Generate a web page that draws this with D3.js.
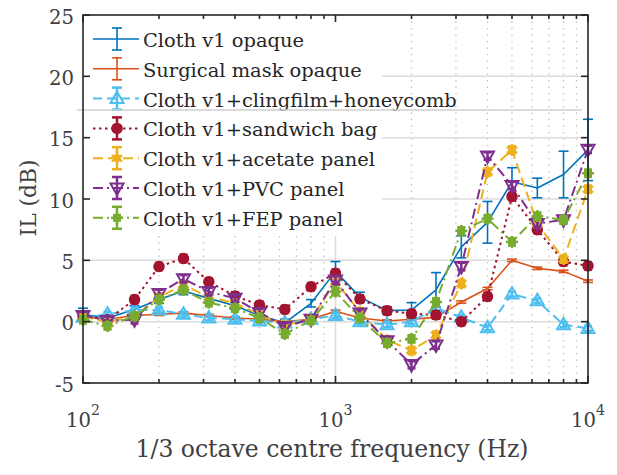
<!DOCTYPE html>
<html><head><meta charset="utf-8">
<script src="https://cdn.jsdelivr.net/npm/d3@7"></script>
<style>html,body{margin:0;padding:0;background:#fff;}svg{display:block;}
svg text{font-family:"DejaVu Serif","Liberation Serif",serif;}</style>
</head><body>
<svg id="chart" width="617" height="475"></svg>
<script>
const freqs = [100,125,160,200,250,315,400,500,630,800,1000,1250,1600,2000,2500,3150,4000,5000,6300,8000,10000];

const clothOpaque    = [0.6,0.3,1.0,1.8,2.5,1.9,1.3,0.5,-0.1,1.5,4.1,2.0,0.9,0.95,2.6,6.1,8.1,11.4,10.9,12.0,14.0];
const clothOpaqueErr = [0.5,0.2,0.3,0.3,0.3,0.3,0.3,0.3,0.3,0.3,0.8,0.4,0.3,0.6,1.4,0.9,1.7,1.15,0.8,1.9,2.5];

const surgical    = [0.4,0.2,0.5,0.6,0.7,0.5,0.3,0.2,0.0,0.2,0.85,0.3,0.05,0.2,0.35,1.6,2.7,5.0,4.35,4.1,3.3];
const surgicalErr = [0.1,0.1,0.1,0.1,0.1,0.1,0.1,0.1,0.1,0.1,0.1,0.1,0.1,0.1,0.1,0.1,0.1,0.1,0.1,0.1,0.1];

const clingfilm    = [0.35,0.6,0.95,0.95,0.6,0.3,0.2,0.05,-0.1,0.2,0.5,0.0,-0.25,0.0,1.1,0.35,-0.5,2.25,1.7,-0.25,-0.55];
const clingfilmErr = [0.2,0.2,0.2,0.2,0.2,0.2,0.2,0.2,0.2,0.2,0.2,0.2,0.2,0.2,0.2,0.2,0.2,0.2,0.2,0.2,0.2];

const sandwich    = [0.5,0.15,1.8,4.5,5.15,3.25,2.1,1.35,1.0,2.85,3.95,1.85,0.9,0.65,0.55,0.0,2.05,10.2,7.5,4.9,4.55];
const sandwichErr = [0.3,0.3,0.3,0.3,0.3,0.3,0.3,0.3,0.3,0.3,0.3,0.3,0.3,0.3,0.3,0.3,0.3,0.3,0.3,0.3,0.3];

const acetate    = [0.4,0.0,0.4,2.0,3.0,2.0,1.5,0.6,-0.3,0.2,3.25,0.8,-1.5,-2.35,-1.1,3.1,12.2,14.0,8.0,5.1,10.8];
const acetateErr = [0.3,0.3,0.3,0.3,0.3,0.3,0.3,0.3,0.3,0.3,0.3,0.3,0.3,0.3,0.3,0.3,0.3,0.3,0.3,0.3,0.3];

const pvc    = [0.5,0.1,0.15,2.3,3.5,2.45,1.9,0.75,-0.4,0.2,3.4,0.7,-1.55,-3.5,-1.9,4.5,13.5,11.1,8.0,8.3,14.05];
const pvcErr = [0.3,0.3,0.3,0.3,0.3,0.3,0.3,0.3,0.3,0.3,0.3,0.3,0.3,0.3,0.3,0.3,0.3,0.3,0.3,0.3,0.3];

const fep    = [0.15,-0.35,0.45,1.8,2.6,1.55,1.1,0.3,-1.0,0.1,2.45,0.3,-1.75,-1.4,1.6,7.4,8.4,6.5,8.6,8.3,12.1];
const fepErr = [0.3,0.3,0.3,0.3,0.3,0.3,0.3,0.3,0.3,0.3,0.3,0.3,0.3,0.3,0.3,0.3,0.3,0.3,0.3,0.3,0.3];

const seriesNames = ["Cloth v1 opaque","Surgical mask opaque","Cloth v1+clingfilm+honeycomb","Cloth v1+sandwich bag","Cloth v1+acetate panel","Cloth v1+PVC panel","Cloth v1+FEP panel"];
const yTicks = [-5,0,5,10,15,20,25];
const xMajorTicks = [100,1000,10000];
const xMajorExp = ["2","3","4"];
const xLabel = "1/3 octave centre frequency (Hz)";
const yLabel = "IL (dB)";

const series = [
  {name:seriesNames[0], values:clothOpaque, err:clothOpaqueErr, color:"#0072BD", dash:null, marker:null},
  {name:seriesNames[1], values:surgical, err:surgicalErr, color:"#D95319", dash:null, marker:null},
  {name:seriesNames[2], values:clingfilm, err:clingfilmErr, color:"#4DBEEE", dash:"9,5", marker:"triUp"},
  {name:seriesNames[3], values:sandwich, err:sandwichErr, color:"#A2142F", dash:"2.5,3.5", marker:"circle"},
  {name:seriesNames[4], values:acetate, err:acetateErr, color:"#EDB120", dash:"10,5", marker:"star"},
  {name:seriesNames[5], values:pvc, err:pvcErr, color:"#7E2F8E", dash:"10,4,2,4", marker:"triDown"},
  {name:seriesNames[6], values:fep, err:fepErr, color:"#77AC30", dash:"10,4,2,4", marker:"square"}
];

const svg = d3.select("#chart");
const L = 83, R = 588, T = 15, B = 383;
const x = d3.scaleLog().domain([100,10000]).range([L,R]);
const y = d3.scaleLinear().domain([-5,25]).range([B,T]);
const axisCol = "#262626";

// font size that makes a string take a given width
function fitSize(str, target, base) {
  const t = svg.append("text").attr("font-size",base).text(str);
  const w = t.node().getComputedTextLength();
  t.remove();
  return w > 0 ? base*target/w : base;
}
const legendSize = Math.min(24, fitSize(seriesNames[2], 314, 24));
const titleSize = Math.min(29, fitSize(xLabel, 393, 28));
const tickSize = Math.min(25, fitSize("25", 25, 25));
const ylabSize = Math.min(26, fitSize(yLabel, 77, 26));

svg.append("rect").attr("width",617).attr("height",475).attr("fill","#fff");

const minor = [];
[100,1000].forEach(d => { for (let k=2;k<=9;k++) minor.push(d*k); });

const grid = svg.append("g");
grid.selectAll("line.mg").data(minor).join("line")
  .attr("x1",d=>x(d)).attr("x2",d=>x(d)).attr("y1",T).attr("y2",B)
  .attr("stroke","#b8b8b8").attr("stroke-width",1.3).attr("stroke-dasharray","1.3,5.2");
grid.selectAll("line.xg").data([1000]).join("line")
  .attr("x1",d=>x(d)).attr("x2",d=>x(d)).attr("y1",T).attr("y2",B)
  .attr("stroke","#dcdcdc").attr("stroke-width",1.5);
grid.selectAll("line.yg").data(yTicks.slice(1,-1)).join("line")
  .attr("x1",L).attr("x2",R).attr("y1",d=>y(d)).attr("y2",d=>y(d))
  .attr("stroke","#dcdcdc").attr("stroke-width",1.5);

svg.append("rect").attr("x",L+1).attr("y",T+1).attr("width",298).attr("height",220).attr("fill","#fff");

function drawMarker(g, type, color, cx, cy) {
  if (type === "triUp") {
    g.append("path").attr("d",`M${cx},${cy-7}L${cx+6.5},${cy+4.5}L${cx-6.5},${cy+4.5}Z`)
      .attr("fill","none").attr("stroke",color).attr("stroke-width",2);
  } else if (type === "triDown") {
    g.append("path").attr("d",`M${cx},${cy+7}L${cx+6.5},${cy-4.5}L${cx-6.5},${cy-4.5}Z`)
      .attr("fill","none").attr("stroke",color).attr("stroke-width",2);
  } else if (type === "circle") {
    g.append("circle").attr("cx",cx).attr("cy",cy).attr("r",5).attr("fill",color).attr("stroke",color).attr("stroke-width",1.5);
  } else if (type === "star") {
    g.append("circle").attr("cx",cx).attr("cy",cy).attr("r",4).attr("fill",color);
    [[0,1],[0.866,0.5],[0.866,-0.5]].forEach(([a,b])=>{
      g.append("line").attr("x1",cx-a*6).attr("y1",cy-b*6).attr("x2",cx+a*6).attr("y2",cy+b*6)
        .attr("stroke",color).attr("stroke-width",2.2);
    });
  } else if (type === "square") {
    g.append("rect").attr("x",cx-4).attr("y",cy-4).attr("width",8).attr("height",8).attr("fill",color);
    g.append("line").attr("x1",cx-6).attr("x2",cx+6).attr("y1",cy).attr("y2",cy).attr("stroke",color).attr("stroke-width",2.5);
    g.append("line").attr("x1",cx).attr("x2",cx).attr("y1",cy-6).attr("y2",cy+6).attr("stroke",color).attr("stroke-width",2.5);
  }
}

const lineGen = d3.line().x(d=>x(d.f)).y(d=>y(d.v));
const dataG = svg.append("g");
series.forEach(s => {
  const pts = freqs.map((f,i)=>({f, v:s.values[i], e:s.err[i]}));
  const g = dataG.append("g");
  g.append("path").datum(pts).attr("d",lineGen).attr("fill","none")
    .attr("stroke",s.color).attr("stroke-width",s.marker?2:1.6)
    .attr("stroke-dasharray",s.dash).attr("stroke-linejoin","round");
  const cap = s.marker ? 4 : 5;
  const sw = s.marker ? 2.5 : 1.6;
  pts.forEach(p => {
    const y1 = y(p.v - p.e), y2 = y(p.v + p.e), cx = x(p.f);
    g.append("line").attr("x1",cx).attr("x2",cx).attr("y1",y1).attr("y2",y2).attr("stroke",s.color).attr("stroke-width",sw);
    g.append("line").attr("x1",cx-cap).attr("x2",cx+cap).attr("y1",y1).attr("y2",y1).attr("stroke",s.color).attr("stroke-width",sw);
    g.append("line").attr("x1",cx-cap).attr("x2",cx+cap).attr("y1",y2).attr("y2",y2).attr("stroke",s.color).attr("stroke-width",sw);
    if (s.marker) drawMarker(g, s.marker, s.color, cx, y(p.v));
  });
});

const leg = svg.append("g");
series.forEach((s,i) => {
  const cy = 39 + i*29.8;
  leg.append("line").attr("x1",93).attr("x2",139).attr("y1",cy).attr("y2",cy)
    .attr("stroke",s.color).attr("stroke-width",s.marker?2:1.6).attr("stroke-dasharray",s.dash);
  const sw = s.marker?2.5:1.6;
  leg.append("line").attr("x1",117).attr("x2",117).attr("y1",cy-11).attr("y2",cy+11).attr("stroke",s.color).attr("stroke-width",sw);
  [cy-11, cy+11].forEach(yy => leg.append("line").attr("x1",112).attr("x2",122).attr("y1",yy).attr("y2",yy).attr("stroke",s.color).attr("stroke-width",sw));
  if (s.marker) drawMarker(leg, s.marker, s.color, 117, cy);
  leg.append("text").attr("x",143).attr("y",cy+8).attr("font-size",legendSize)
    .attr("fill","#262626").text(s.name);
});

svg.append("line").attr("x1",77).attr("x2",582).attr("y1",110).attr("y2",110).attr("stroke","#cfcfcf").attr("stroke-width",1.5);

const ax = svg.append("g").attr("stroke",axisCol).attr("stroke-width",1.6);
ax.append("rect").attr("x",L).attr("y",T).attr("width",R-L).attr("height",B-T).attr("fill","none");
yTicks.forEach(t => {
  ax.append("line").attr("x1",L).attr("x2",L+7).attr("y1",y(t)).attr("y2",y(t));
  ax.append("line").attr("x1",R).attr("x2",R-7).attr("y1",y(t)).attr("y2",y(t));
});
xMajorTicks.forEach(t => {
  ax.append("line").attr("x1",x(t)).attr("x2",x(t)).attr("y1",B).attr("y2",B-7);
  ax.append("line").attr("x1",x(t)).attr("x2",x(t)).attr("y1",T).attr("y2",T+7);
});
minor.forEach(t => {
  ax.append("line").attr("x1",x(t)).attr("x2",x(t)).attr("y1",B).attr("y2",B-4);
  ax.append("line").attr("x1",x(t)).attr("x2",x(t)).attr("y1",T).attr("y2",T+4);
});

svg.append("g").selectAll("text").data(yTicks).join("text")
  .attr("x",74).attr("y",d=>y(d)+8.5).attr("text-anchor","end")
  .attr("font-size",tickSize).attr("fill","#404040").text(d=>d);
xMajorTicks.forEach((t,i) => {
  const tx = svg.append("text").attr("x",x(t)).attr("y",427).attr("text-anchor","middle")
    .attr("font-size",tickSize).attr("fill","#404040");
  tx.append("tspan").text("10");
  tx.append("tspan").attr("dy",-12).attr("font-size",tickSize*0.72).text(xMajorExp[i]);
});

svg.append("text").attr("x",332).attr("y",457).attr("text-anchor","middle")
  .attr("font-size",titleSize).attr("fill","#404040").text(xLabel);
svg.append("text").attr("transform","translate(36,198) rotate(-90)").attr("text-anchor","middle")
  .attr("font-size",ylabSize).attr("fill","#404040").text(yLabel);
</script>
</body></html>
